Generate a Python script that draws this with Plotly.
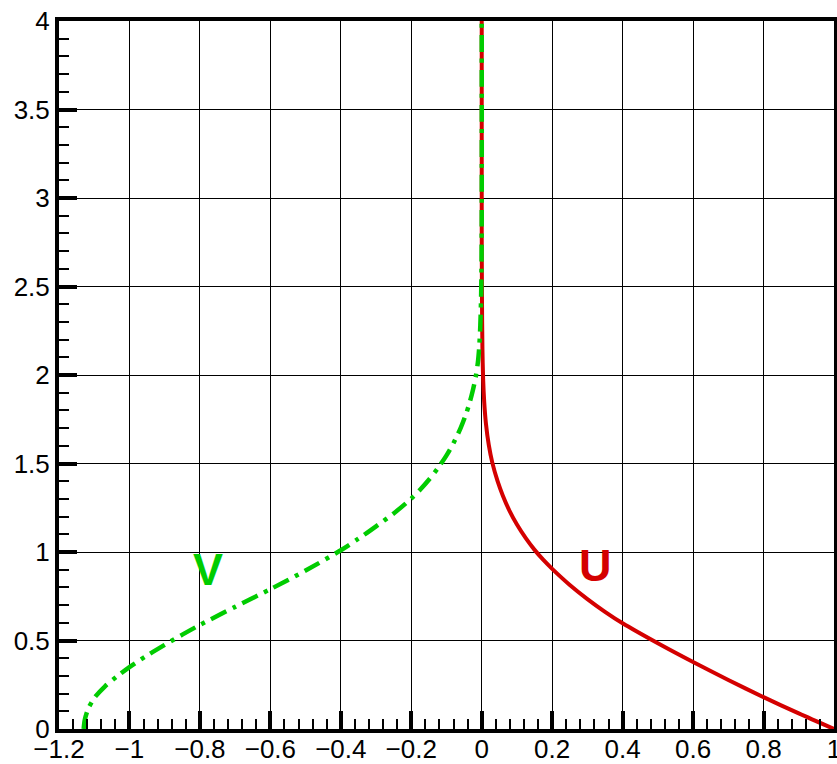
import plotly.graph_objects as go

# U profile (red, solid)
u_x = [1.0, 0.9, 0.8, 0.7, 0.6, 0.5, 0.4, 0.35, 0.3, 0.25, 0.2, 0.175, 0.15, 0.125, 0.1, 0.08, 0.06, 0.045, 0.03, 0.02, 0.012, 0.007, 0.004, 0.002, 0.0008, 0.0, 0.0]
u_y = [0.0, 0.088, 0.18, 0.277, 0.378, 0.484, 0.597, 0.662, 0.734, 0.814, 0.905, 0.955, 1.012, 1.078, 1.155, 1.228, 1.318, 1.40, 1.505, 1.605, 1.725, 1.85, 1.975, 2.15, 2.4, 2.8, 4.0]

# V profile (green, dash-dot)
v_x = [-1.13, -1.127, -1.118, -1.1, -1.07, -1.036, -1.0, -0.95, -0.9, -0.85, -0.8, -0.7, -0.6, -0.5, -0.4, -0.35, -0.3, -0.25, -0.2, -0.175, -0.15, -0.125, -0.1, -0.08, -0.06, -0.045, -0.035, -0.025, -0.017, -0.011, -0.007, -0.004, -0.002, -0.0008, 0.0, 0.0]
v_y = [0.0, 0.05, 0.11, 0.175, 0.24, 0.296, 0.35, 0.415, 0.475, 0.533, 0.588, 0.69, 0.79, 0.895, 1.01, 1.075, 1.145, 1.218, 1.302, 1.352, 1.408, 1.472, 1.546, 1.616, 1.70, 1.777, 1.839, 1.915, 1.99, 2.07, 2.16, 2.28, 2.42, 2.58, 2.9, 4.0]

# Curve labels
lab_text = ["U", "V"]
lab_x = [0.323, -0.778]
lab_y = [0.921, 0.90]
lab_color = ["#d40000", "#00cc00"]

fig = go.Figure()
fig.add_trace(go.Scatter(x=u_x, y=u_y, mode="lines",
                         line=dict(color="#d40000", width=4, shape="spline", smoothing=0.8),
                         showlegend=False))
fig.add_trace(go.Scatter(x=v_x, y=v_y, mode="lines",
                         line=dict(color="#00cc00", width=4.5, dash="17px,7px,4px,7px",
                                   shape="spline", smoothing=0.8),
                         showlegend=False))

for t, x, y, c in zip(lab_text, lab_x, lab_y, lab_color):
    fig.add_annotation(x=x, y=y, text="<b>%s</b>" % t, showarrow=False,
                       font=dict(family="Liberation Sans, Arial", size=45, color=c),
                       xanchor="center", yanchor="middle")

axis_common = dict(
    showline=True, linecolor="black", linewidth=4, mirror=True,
    showgrid=True, gridcolor="black", gridwidth=1,
    ticks="inside", ticklen=18, tickwidth=4, tickcolor="black",
    zeroline=False,
    tickfont=dict(family="Liberation Sans, Arial", size=26, color="black"),
    automargin=False,
)

fig.update_xaxes(range=[-1.2, 1.0], tick0=-1.2, dtick=0.2, ticklabelstandoff=-6,
                 ticklabeloverflow="allow",
                 minor=dict(ticks="inside", dtick=0.04, ticklen=10, tickwidth=1.5,
                            tickcolor="black", showgrid=False),
                 **axis_common)
fig.update_yaxes(range=[0, 4], tick0=0, dtick=0.5, ticklabeloverflow="allow",
                 minor=dict(ticks="inside", dtick=0.1, ticklen=10, tickwidth=1.5,
                            tickcolor="black", showgrid=False),
                 **axis_common)

fig.update_layout(width=837, height=764,
                  margin=dict(l=59, r=3, t=21, b=35),
                  plot_bgcolor="white", paper_bgcolor="white")

fig.write_html("out.html", config={"displayModeBar": False})

# remove the default page margin so the figure sits at the window's top-left corner
with open("out.html", "r", encoding="utf-8") as f:
    html = f.read()
html = html.replace("<head>", "<head><style>html,body{margin:0;padding:0;overflow:hidden;}</style>", 1)
with open("out.html", "w", encoding="utf-8") as f:
    f.write(html)
